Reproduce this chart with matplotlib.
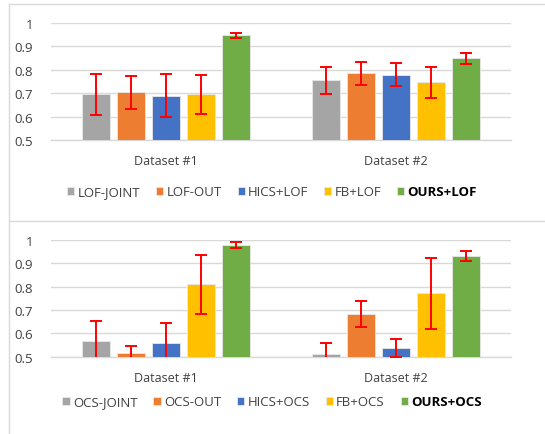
import matplotlib.pyplot as plt
from matplotlib.lines import Line2D
import numpy as np

plt.rcParams['font.family'] = ['Open Sans', 'DejaVu Sans']

datasets = ['Dataset #1', 'Dataset #2']
colors = ['#a5a5a5', '#ed7d31', '#4472c4', '#ffc000', '#70ad47']

# panel 1: LOF based methods
lof_names = ['LOF-JOINT', 'LOF-OUT', 'HICS+LOF', 'FB+LOF', 'OURS+LOF']
lof_vals = [[0.695, 0.756], [0.703, 0.785], [0.690, 0.779], [0.695, 0.746], [0.948, 0.849]]
lof_err = [[0.088, 0.058], [0.070, 0.049], [0.090, 0.048], [0.083, 0.068], [0.010, 0.023]]

# panel 2: OCS based methods
ocs_names = ['OCS-JOINT', 'OCS-OUT', 'HICS+OCS', 'FB+OCS', 'OURS+OCS']
ocs_vals = [[0.566, 0.513], [0.514, 0.683], [0.557, 0.537], [0.810, 0.771], [0.980, 0.931]]
ocs_err = [[0.088, 0.047], [0.033, 0.056], [0.089, 0.040], [0.126, 0.152], [0.013, 0.022]]

W, H = 545, 435
fig = plt.figure(figsize=(W / 100, H / 100), dpi=100)


def panel(top_px, bot_px, legend_px, names, vals, errs):
    ax = fig.add_axes([51 / W, 1 - bot_px / H, 460 / W, (bot_px - top_px) / H])
    x = np.arange(len(datasets))
    step, width = 0.152, 0.12
    for i, name in enumerate(names):
        ax.bar(x + (i - 2) * step, vals[i], width, bottom=0,
               color=colors[i], edgecolor='#e8e8e8', linewidth=0.6,
               label=name, zorder=3)
        ax.errorbar(x + (i - 2) * step, vals[i], yerr=errs[i], fmt='none',
                    ecolor='#ff0000', elinewidth=1.4, capsize=4, capthick=1.4,
                    zorder=4)
    ax.set_xlim(-0.5, 1.5)
    ax.set_ylim(0.5, 1.0)
    ax.set_yticks([0.5, 0.6, 0.7, 0.8, 0.9, 1.0])
    ax.set_yticklabels(['0.5', '0.6', '0.7', '0.8', '0.9', '1'])
    ax.set_xticks(x)
    ax.set_xticklabels(datasets)
    ax.tick_params(axis='y', length=0, pad=13, labelsize=9.5, colors='#404040')
    ax.tick_params(axis='x', length=0, pad=10, labelsize=9, colors='#404040')
    ax.grid(axis='y', color='#d9d9d9', linewidth=1, zorder=0)
    for s in ['top', 'right', 'left']:
        ax.spines[s].set_visible(False)
    ax.spines['bottom'].set_color('#d9d9d9')
    ax.spines['bottom'].set_linewidth(1)
    leg = ax.legend(loc='center', bbox_to_anchor=(272 / W, 1 - legend_px / H),
                    bbox_transform=fig.transFigure, ncol=5, frameon=False,
                    handlelength=0.55, handleheight=0.6, handletextpad=0.25,
                    columnspacing=1.2, fontsize=9.5)
    for t in leg.get_texts():
        t.set_color('#404040')
    leg.get_texts()[-1].set_fontweight('bold')
    leg.get_texts()[-1].set_color('#000000')
    return ax


panel(24, 141, 193, lof_names, lof_vals, lof_err)
panel(241, 357.7, 403, ocs_names, ocs_vals, ocs_err)

# panel frames
for ln in [Line2D([8.5 / W, 1], [1 - 5 / H, 1 - 5 / H]),
           Line2D([8.5 / W, 1], [1 - 222 / H, 1 - 222 / H]),
           Line2D([8.5 / W, 8.5 / W], [0, 1 - 5 / H])]:
    ln.set_color('#d9d9d9')
    ln.set_linewidth(1)
    fig.add_artist(ln)

fig.savefig('out.png', dpi=100)
